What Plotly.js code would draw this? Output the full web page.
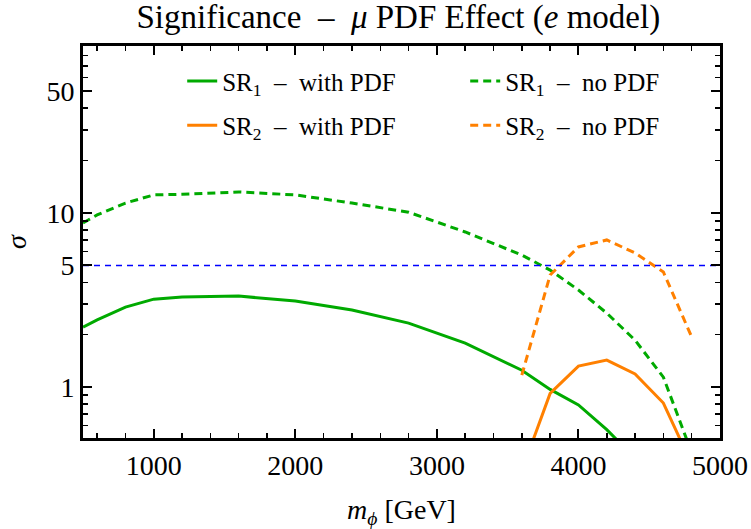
<!DOCTYPE html>
<html>
<head>
<meta charset="utf-8">
<script src="https://cdn.plot.ly/plotly-3.0.1.min.js"></script>
<style>
  html, body { margin: 0; padding: 0; background: #ffffff; }
  #chart { width: 751px; height: 529px; }
</style>
</head>
<body>
<div id="chart"></div>
<script>
// Mass points (GeV) for each signal region
const massSR1 = [500, 600, 800, 1000, 1200, 1600, 2000, 2400, 2800, 3200, 3600, 3800, 4000, 4200, 4400, 4600, 4800];
const massSR2 = [3600, 3800, 4000, 4200, 4400, 4600, 4800];

// Significance values
const sr1WithPDF = [2.21, 2.43, 2.88, 3.20, 3.29, 3.33, 3.12, 2.77, 2.33, 1.79, 1.25, 0.97, 0.79, 0.57, 0.39, null, null];
const sr1NoPDF   = [8.77, 9.74, 11.4, 12.7, 12.8, 13.2, 12.7, 11.4, 10.1, 7.78, 5.73, 4.70, 3.61, 2.66, 1.86, 1.14, 0.42];
const sr2WithPDF = [0.33, 0.92, 1.32, 1.43, 1.19, 0.81, 0.36];
const sr2NoPDF   = [1.17, 4.40, 6.38, 7.00, 5.89, 4.58, 1.94];

// Discovery threshold
const threshold = 5;
const xRange = [500, 5000];

// Axis tick labels
const yMajorTicks = [1, 5, 10, 50];
const yMinorTicks = [0.6, 0.7, 0.8, 0.9, 2, 3, 4, 6, 7, 8, 9, 20, 30, 40, 60, 70, 80, 90];
const xMajorTicks = [1000, 2000, 3000, 4000, 5000];

const GREEN = 'rgb(0,170,0)';
const ORANGE = 'rgb(255,128,0)';
const FONT = 'Liberation Serif, Times New Roman, DejaVu Serif, serif';

const traces = [
  { x: massSR1, y: sr1WithPDF, mode: 'lines', name: 'SR<sub>1</sub>  –  with PDF', legend: 'legend',
    line: { color: GREEN, width: 3 } },
  { x: massSR1, y: sr1NoPDF, mode: 'lines', name: 'SR<sub>1</sub>  –  no PDF', legend: 'legend',
    line: { color: GREEN, width: 3, dash: '8px,5px' } },
  { x: massSR2, y: sr2WithPDF, mode: 'lines', name: 'SR<sub>2</sub>  –  with PDF', legend: 'legend2',
    line: { color: ORANGE, width: 3 } },
  { x: massSR2, y: sr2NoPDF, mode: 'lines', name: 'SR<sub>2</sub>  –  no PDF', legend: 'legend2',
    line: { color: ORANGE, width: 3, dash: '8px,5px' } },
  { x: xRange, y: [threshold, threshold], mode: 'lines', showlegend: false, hoverinfo: 'skip',
    line: { color: 'rgb(0,0,255)', width: 1.5, dash: '6px,5px' } }
];

const legendStyle = (yPos) => ({
  orientation: 'h', x: 0.60, xanchor: 'center', y: yPos, yanchor: 'middle',
  entrywidth: 238, entrywidthmode: 'pixels',
  font: { family: FONT, size: 25, color: '#000' },
  bgcolor: 'rgba(0,0,0,0)', borderwidth: 0
});

const layout = {
  width: 751, height: 529,
  paper_bgcolor: '#ffffff', plot_bgcolor: '#ffffff',
  margin: { l: 83, r: 31, t: 46, b: 91, autoexpand: false },
  font: { family: FONT, color: '#000000', size: 28 },
  title: {
    text: 'Significance  –  <i>μ</i> PDF Effect (<i>e</i> model)',
    font: { family: FONT, size: 33, color: '#000' },
    xref: 'paper', x: 0.495, xanchor: 'center',
    yref: 'container', y: 0.99, yanchor: 'top'
  },
  xaxis: {
    range: xRange, type: 'linear',
    tickvals: xMajorTicks, ticktext: xMajorTicks.map(String),
    ticks: 'inside', ticklen: 9, tickwidth: 2, tickcolor: '#000',
    minor: { dtick: 200, tick0: 0, ticks: 'inside', ticklen: 5, tickwidth: 1.5, tickcolor: '#000' },
    showline: true, linewidth: 3, linecolor: '#000', mirror: 'ticks',
    showgrid: false, zeroline: false,
    tickfont: { family: FONT, size: 28 },
    title: { text: '<i>m</i><sub><i>ϕ</i></sub> [GeV]', font: { family: FONT, size: 28 }, standoff: 25 }
  },
  yaxis: {
    type: 'log', range: [Math.log10(0.51), Math.log10(91)],
    tickvals: yMajorTicks, ticktext: yMajorTicks.map(String),
    ticks: 'inside', ticklen: 9, tickwidth: 2, tickcolor: '#000',
    minor: { tickvals: yMinorTicks, ticks: 'inside', ticklen: 5, tickwidth: 1.5, tickcolor: '#000' },
    showline: true, linewidth: 3, linecolor: '#000', mirror: 'ticks',
    showgrid: false, zeroline: false,
    tickfont: { family: FONT, size: 28 },
    title: { text: '<i>σ</i>', font: { family: FONT, size: 28 }, standoff: 12 }
  },
  legend: legendStyle(0.91),
  legend2: legendStyle(0.797),
  showlegend: true
};

Plotly.newPlot('chart', traces, layout, { displayModeBar: false, staticPlot: true });
</script>
</body>
</html>
